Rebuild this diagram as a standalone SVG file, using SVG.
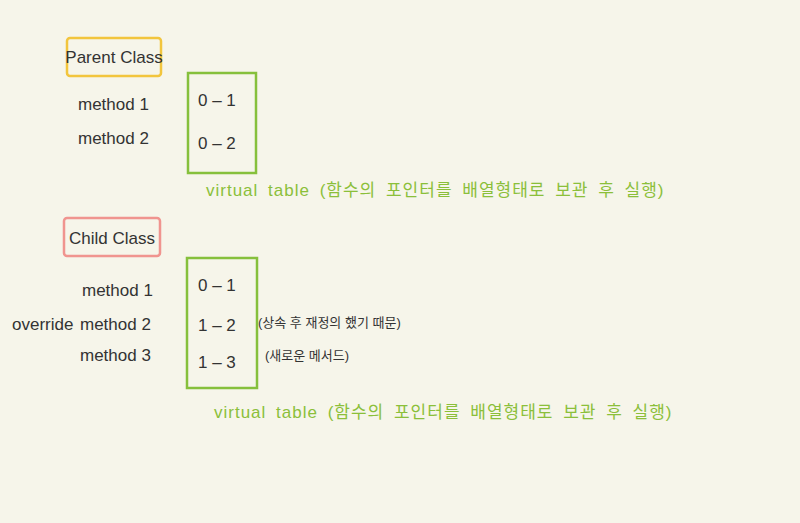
<svg xmlns="http://www.w3.org/2000/svg" width="800" height="523" viewBox="0 0 800 523">
<style>
.t{font-family:"Liberation Sans","Noto Sans CJK KR",sans-serif;fill:#333;font-size:17px}
.g{font-family:"Liberation Sans","Noto Sans CJK KR",sans-serif;fill:#8bbf3a;font-size:17px;letter-spacing:1px;word-spacing:4px}
.s{font-family:"Liberation Sans","Noto Sans CJK KR",sans-serif;fill:#333;font-size:13px}
.box{fill:none;stroke:#86c03c;stroke-width:2.5}
</style>
<rect width="800" height="523" fill="#f6f5ea"/>
<g id="parent-class"><rect x="67" y="38" width="94" height="38" rx="3" fill="none" stroke="#f2c53d" stroke-width="2.5"/><text class="t" x="114" y="63" text-anchor="middle" font-size="16">Parent Class</text></g>
<g id="parent-methods"><text class="t" x="78" y="110">method 1</text><text class="t" x="78" y="144">method 2</text></g>
<g id="parent-vtable"><rect class="box" x="188" y="73" width="68" height="100"/><text class="t" x="198" y="106">0 – 1</text><text class="t" x="198" y="149">0 – 2</text></g>
<text class="g" x="206" y="196">virtual table (함수의 포인터를 배열형태로 보관 후 실행)</text>
<g id="child-class"><rect x="64" y="218" width="96" height="38" rx="3" fill="none" stroke="#f0948f" stroke-width="2.5"/><text class="t" x="112" y="244" text-anchor="middle" font-size="16">Child Class</text></g>
<g id="child-methods"><text class="t" x="82" y="296">method 1</text><text class="t" x="12" y="330" font-size="14">override</text><text class="t" x="80" y="330">method 2</text><text class="t" x="80" y="361">method 3</text></g>
<g id="child-vtable"><rect class="box" x="187" y="258" width="70" height="130"/><text class="t" x="198" y="291">0 – 1</text><text class="t" x="198" y="331" font-size="20">1 – 2</text><text class="t" x="198" y="368" font-size="22">1 – 3</text></g>
<text class="s" x="258" y="327">(상속 후 재정의 했기 때문)</text>
<text class="s" x="265" y="360">(새로운 메서드)</text>
<text class="g" x="214" y="418">virtual table (함수의 포인터를 배열형태로 보관 후 실행)</text>
<g id="connectors"/>
</svg>
